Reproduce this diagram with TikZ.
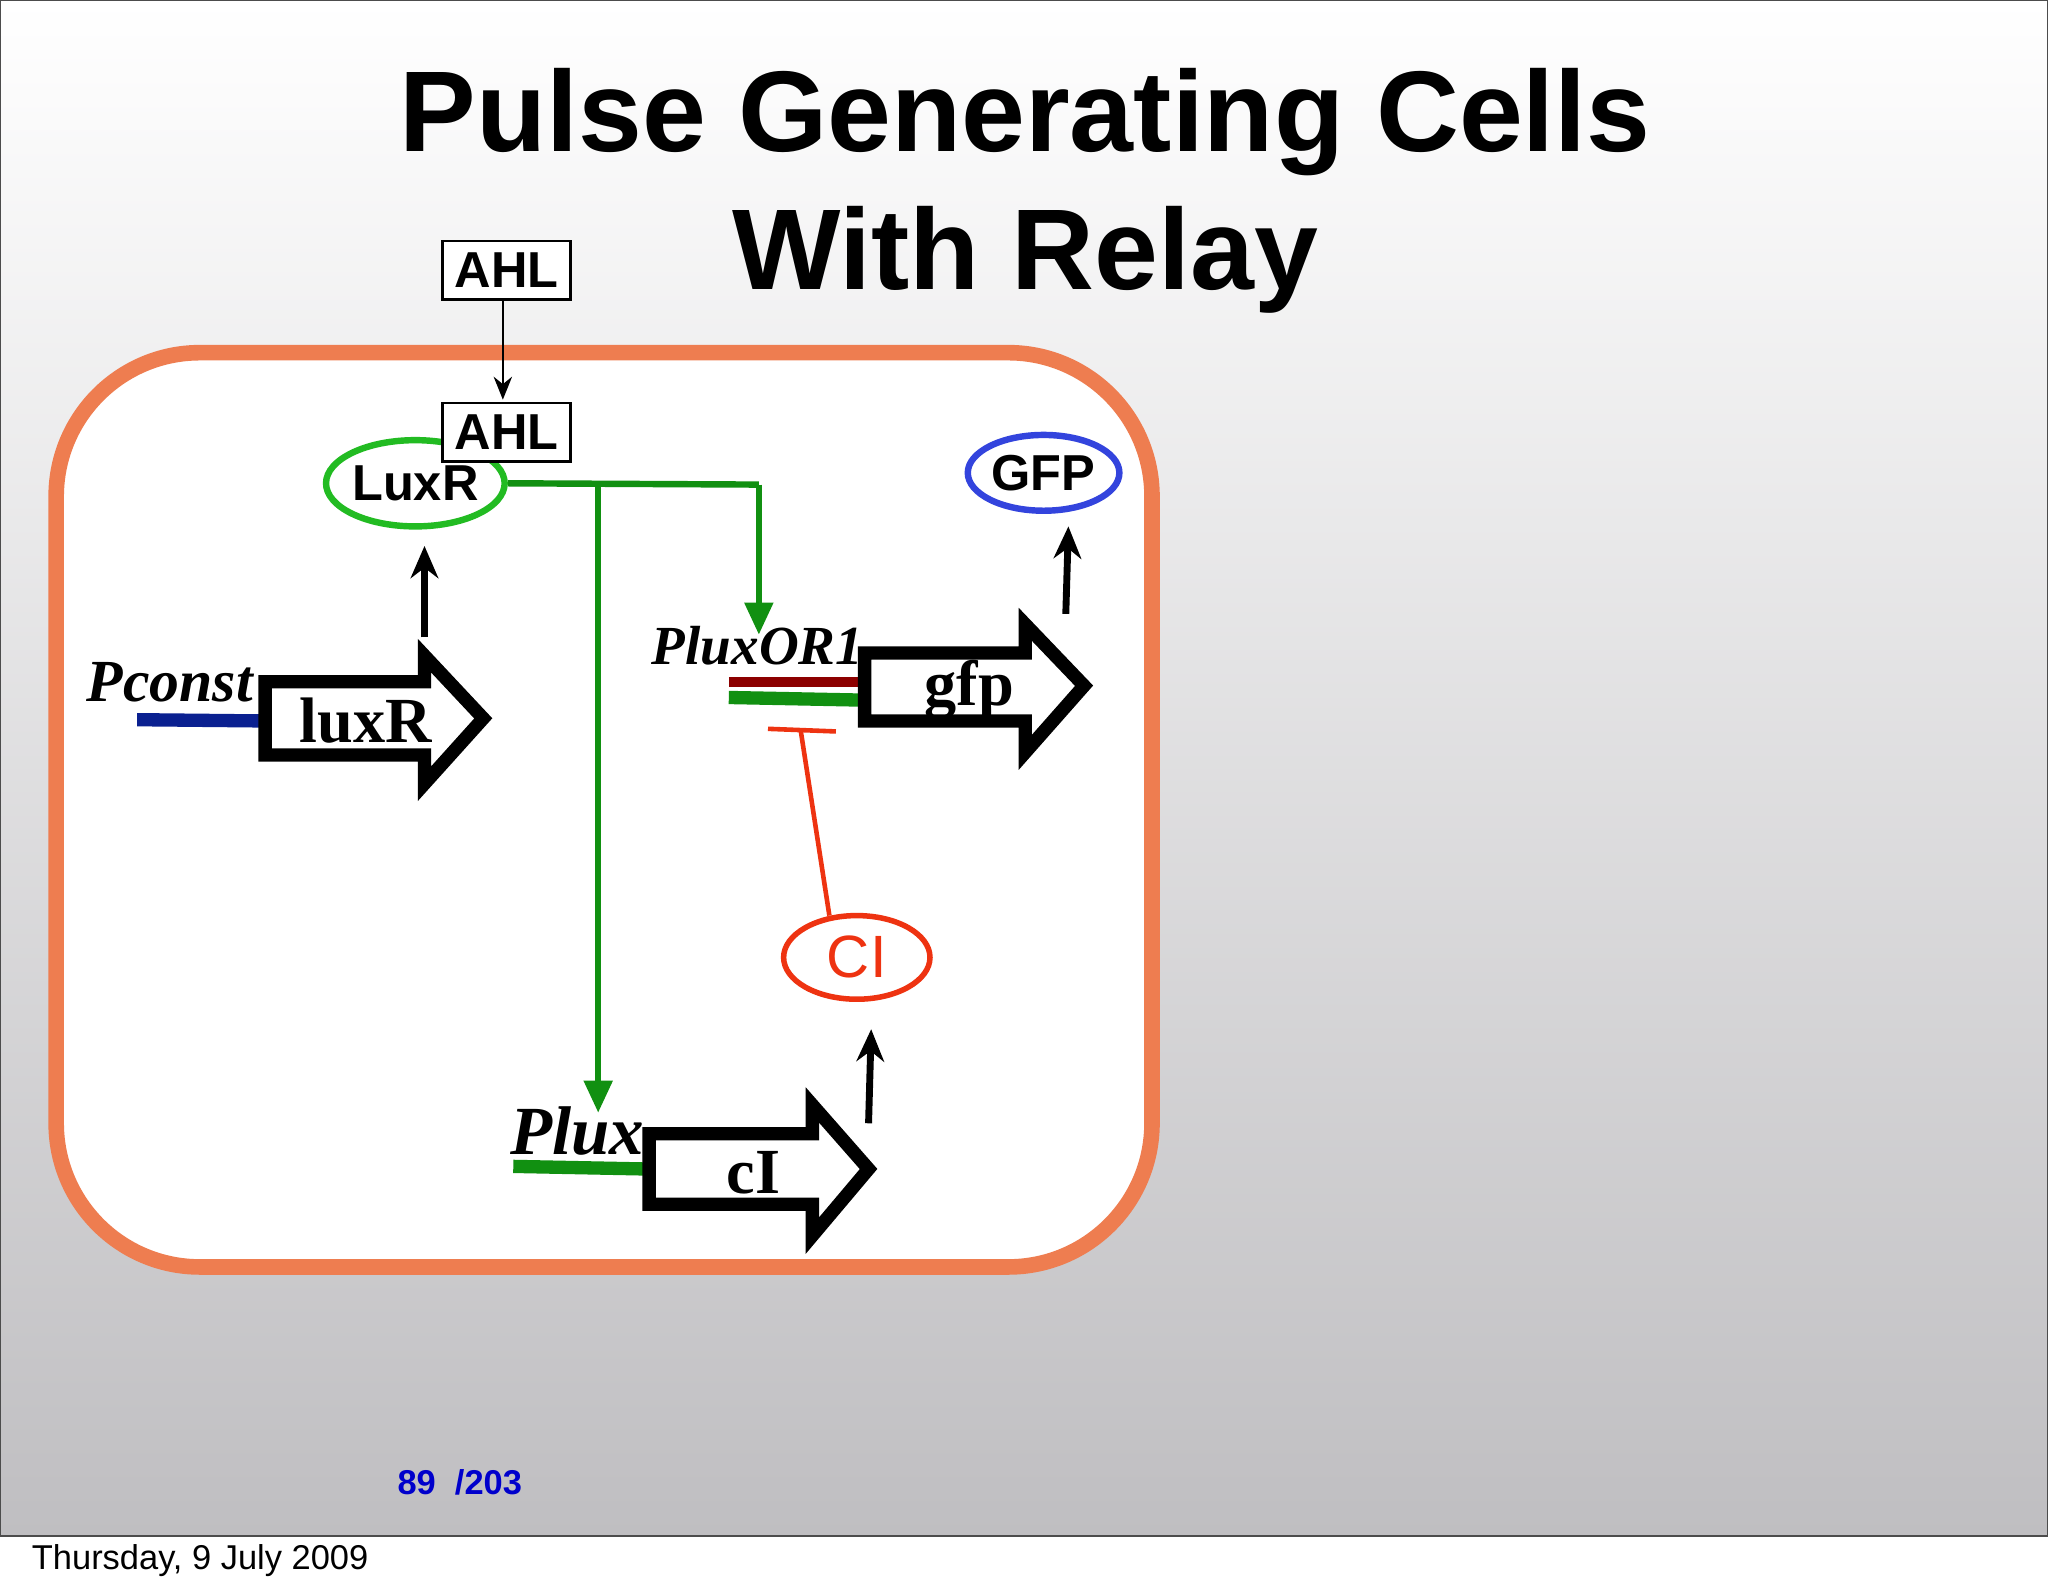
\documentclass[tikz,border=0pt]{standalone}
\usepackage{fontspec}
\setmainfont{Liberation Serif}
\setsansfont{Liberation Sans}
\usetikzlibrary{arrows.meta,shapes.geometric}
\definecolor{cellor}{HTML}{EE7D50}
\definecolor{lgreen}{HTML}{22BB22}
\definecolor{dgreen}{HTML}{119011}
\definecolor{dblue}{HTML}{0A2090}
\definecolor{gfpblue}{HTML}{3344DD}
\definecolor{inred}{HTML}{EE3311}
\definecolor{bgbot}{HTML}{BFBEC1}
\begin{document}
\begin{tikzpicture}[x=0.01cm,y=-0.01cm,
  gene/.style={line width=2.9pt, line join=miter, draw=black},
  prom/.style={font=\fontsize{13}{13}\bfseries\itshape\selectfont},
  gname/.style={font=\fontsize{14}{14}\bfseries\selectfont},
  box/.style={draw, line width=0.6pt, fill=white, minimum width=0.98cm, minimum height=0.45cm, inner sep=0pt, font=\sffamily\bfseries\fontsize{11}{11}\selectfont},
  up/.style={-{Stealth[length=7pt,width=6pt]}, line width=1.5pt},
  act/.style={-{Triangle[length=7pt,width=6pt]}, line width=1.4pt, draw=dgreen}]
\useasboundingbox (0,0) rectangle (1568,1220);
\fill[white] (0,0) rectangle (1568,1220);
\shade[top color=white, bottom color=bgbot] (0,0) rectangle (1568,1176);
\draw[gray!60!black, line width=0.5pt] (0,0) rectangle (1568,1176);
\node[font=\sffamily\bfseries\fontsize{25}{30}\selectfont, align=center] (title) at (785,146) {Pulse Generating Cells\\With Relay};
\node[font=\sffamily\fontsize{7.5}{8}\selectfont, anchor=west] (date) at (12,1195) {Thursday, 9 July 2009};
\node[font=\sffamily\bfseries\fontsize{7.5}{8}\selectfont, text=blue!80!black] (pg) at (352,1135) {89\ \ /203};
% cell
\draw[cellor, line width=3.4pt, fill=white, rounded corners=1.1cm] (43,270) rectangle (882,970);
% AHL
\node[box] (ahl1) at (388,207) {AHL};
\node[ellipse, draw=lgreen, line width=1.4pt, minimum width=1.06cm, minimum height=0.66cm, inner sep=0pt, font=\sffamily\bfseries\fontsize{11}{11}\selectfont] (luxr) at (318,370) {LuxR};
\node[box] (ahl2) at (388,331) {AHL};
\draw[-{Stealth[length=5pt,width=4pt]}, line width=0.5pt] (ahl1.south -| 385,0) -- (385,306) coordinate (ahlend);
% luxR gene
\draw[dblue, line width=2.9pt] (105,551) -- (205,552);
\draw[gene] (203,522) -- (325,522) -- (325,502) -- (370,550) -- (325,600) -- (325,578) -- (203,578) -- cycle;
\node[prom] (pconst) at (130,522) {Pconst};
\node[gname] (luxrg) at (280,552) {luxR};
\coordinate (a1s) at (325,488); \coordinate (a1e) at (325,418);
\draw[up] (a1s) -- (a1e);
% green activation
\coordinate (j1) at (458,371); \coordinate (c1) at (581,371);
\coordinate (t1) at (581,486); \coordinate (t2) at (458,852);
\draw[dgreen, line width=1.4pt] (luxr.east) -- (c1);
\draw[act] (c1) -- (t1);
\draw[act] (j1) -- (t2);
% gfp gene
\node[prom, font=\fontsize{12}{12}\bfseries\itshape\selectfont] (pluxor) at (580,494) {PluxOR1};
\draw[red!55!black, line width=2.3pt] (558,522) -- (660,522);
\draw[dgreen, line width=2.9pt] (558,534) -- (660,536);
\draw[gene] (662,500) -- (785,500) -- (785,478) -- (830,525) -- (785,576) -- (785,552) -- (662,552) -- cycle;
\node[gname] (gfpg) at (742,528) {gfp};
\coordinate (a2s) at (816,470); \coordinate (a2e) at (818,403);
\draw[up] (a2s) -- (a2e);
\node[ellipse, draw=gfpblue, line width=1.4pt, minimum width=1.16cm, minimum height=0.58cm, inner sep=0pt, font=\sffamily\bfseries\fontsize{11}{11}\selectfont] (gfp) at (799,362) {GFP};
% CI
\node[ellipse, draw=inred, line width=1.2pt, minimum width=1.12cm, minimum height=0.64cm, inner sep=0pt, text=inred, font=\sffamily\fontsize{13}{13}\selectfont] (ci) at (656,733) {CI};
\coordinate (inh) at (613,559);
\coordinate (cit) at (635,701);
\draw[inred, line width=1pt] (cit) -- (inh);
\draw[inred, line width=1pt] (588,558) -- (640,560);
% cI gene
\draw[dgreen, line width=2.9pt] (393,893) -- (495,895);
\draw[gene] (497,868) -- (622,868) -- (622,846) -- (665,895) -- (622,946) -- (622,922) -- (497,922) -- cycle;
\node[prom, font=\fontsize{15}{15}\bfseries\itshape\selectfont] (plux) at (442,866) {Plux};
\node[gname] (cig) at (577,898) {cI};
\coordinate (a3s) at (665,860); \coordinate (a3e) at (667,788);
\draw[up] (a3s) -- (a3e);
\end{tikzpicture}
\end{document}
